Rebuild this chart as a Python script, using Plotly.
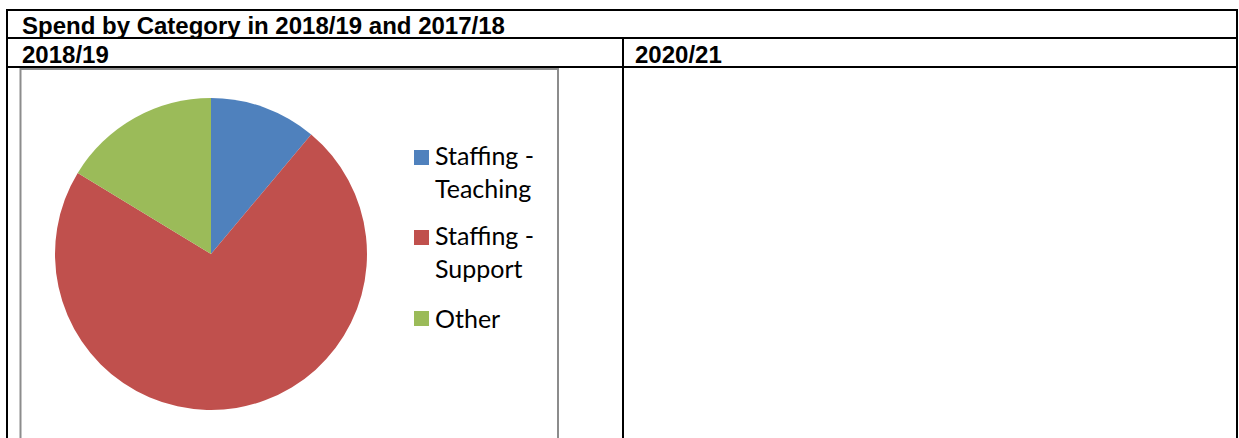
import plotly.graph_objects as go

W, H = 1239, 438

# ---- data ----
categories = ["Staffing - Teaching", "Staffing - Support", "Other"]
values = [11.1, 72.6, 16.3]
colors = ["#4F81BD", "#C0504D", "#9BBB59"]
title_text = "Spend by Category in 2018/19 and 2017/18"
col_headers = ["2018/19", "2020/21"]


def px(x):
    return x / W


def py(y):
    return 1 - y / H


fig = go.Figure()
fig.add_trace(go.Pie(
    labels=categories,
    values=values,
    marker=dict(colors=colors, line=dict(width=0)),
    sort=False,
    direction="clockwise",
    rotation=0,
    textinfo="none",
    showlegend=False,
    domain=dict(x=[px(55), px(367)], y=[py(410), py(98)]),
))

shapes = []
black = dict(color="black", width=2)
# outer table border and row lines
shapes.append(dict(type="line", xref="paper", yref="paper", x0=px(6), x1=px(1238), y0=py(10), y1=py(10), line=black))
shapes.append(dict(type="line", xref="paper", yref="paper", x0=px(6), x1=px(1238), y0=py(38), y1=py(38), line=black))
shapes.append(dict(type="line", xref="paper", yref="paper", x0=px(6), x1=px(1238), y0=py(67), y1=py(67), line=black))
shapes.append(dict(type="line", xref="paper", yref="paper", x0=px(7), x1=px(7), y0=py(9), y1=py(450), line=black))
shapes.append(dict(type="line", xref="paper", yref="paper", x0=px(1237), x1=px(1237), y0=py(9), y1=py(450), line=black))
shapes.append(dict(type="line", xref="paper", yref="paper", x0=px(623), x1=px(623), y0=py(38), y1=py(450), line=black))
# chart area border
shapes.append(dict(type="rect", xref="paper", yref="paper", x0=px(20.5), x1=px(558), y0=py(69), y1=py(460),
                   line=dict(color="#8c8c8c", width=2), fillcolor="rgba(0,0,0,0)"))

annotations = []
hdr_font = dict(family="Liberation Sans, Arial, sans-serif", size=24, color="black")
annotations.append(dict(text="<b>%s</b>" % title_text, xref="paper", yref="paper", x=px(20), y=py(26),
                        xanchor="left", yanchor="middle", showarrow=False, font=hdr_font))
annotations.append(dict(text="<b>%s</b>" % col_headers[0], xref="paper", yref="paper", x=px(20), y=py(54),
                        xanchor="left", yanchor="middle", showarrow=False, font=hdr_font))
annotations.append(dict(text="<b>%s</b>" % col_headers[1], xref="paper", yref="paper", x=px(633), y=py(54),
                        xanchor="left", yanchor="middle", showarrow=False, font=hdr_font))

# legend (manual, to match spacing)
leg_font = dict(family="Lato, Open Sans, sans-serif", size=25, color="black")
sq_top = [150, 230, 311]
for i, (lab, col) in enumerate(zip(categories, colors)):
    t = sq_top[i]
    shapes.append(dict(type="rect", xref="paper", yref="paper", x0=px(414), x1=px(429), y0=py(t), y1=py(t + 15),
                       line=dict(width=0), fillcolor=col))
    txt = lab.replace("- ", "-<br>")
    nlines = txt.count("<br>") + 1
    center = t + 6.5 + (nlines - 1) * 29 / 2
    annotations.append(dict(text=txt, xref="paper", yref="paper", x=px(433), y=py(center),
                            xanchor="left", yanchor="middle", align="left", showarrow=False, font=leg_font))

fig.update_layout(
    width=W, height=H,
    margin=dict(l=0, r=0, t=0, b=0),
    paper_bgcolor="white", plot_bgcolor="white",
    shapes=shapes, annotations=annotations,
)

fig.write_html("out.html", config={"displayModeBar": False},
               post_script="document.body.style.margin='0';")
